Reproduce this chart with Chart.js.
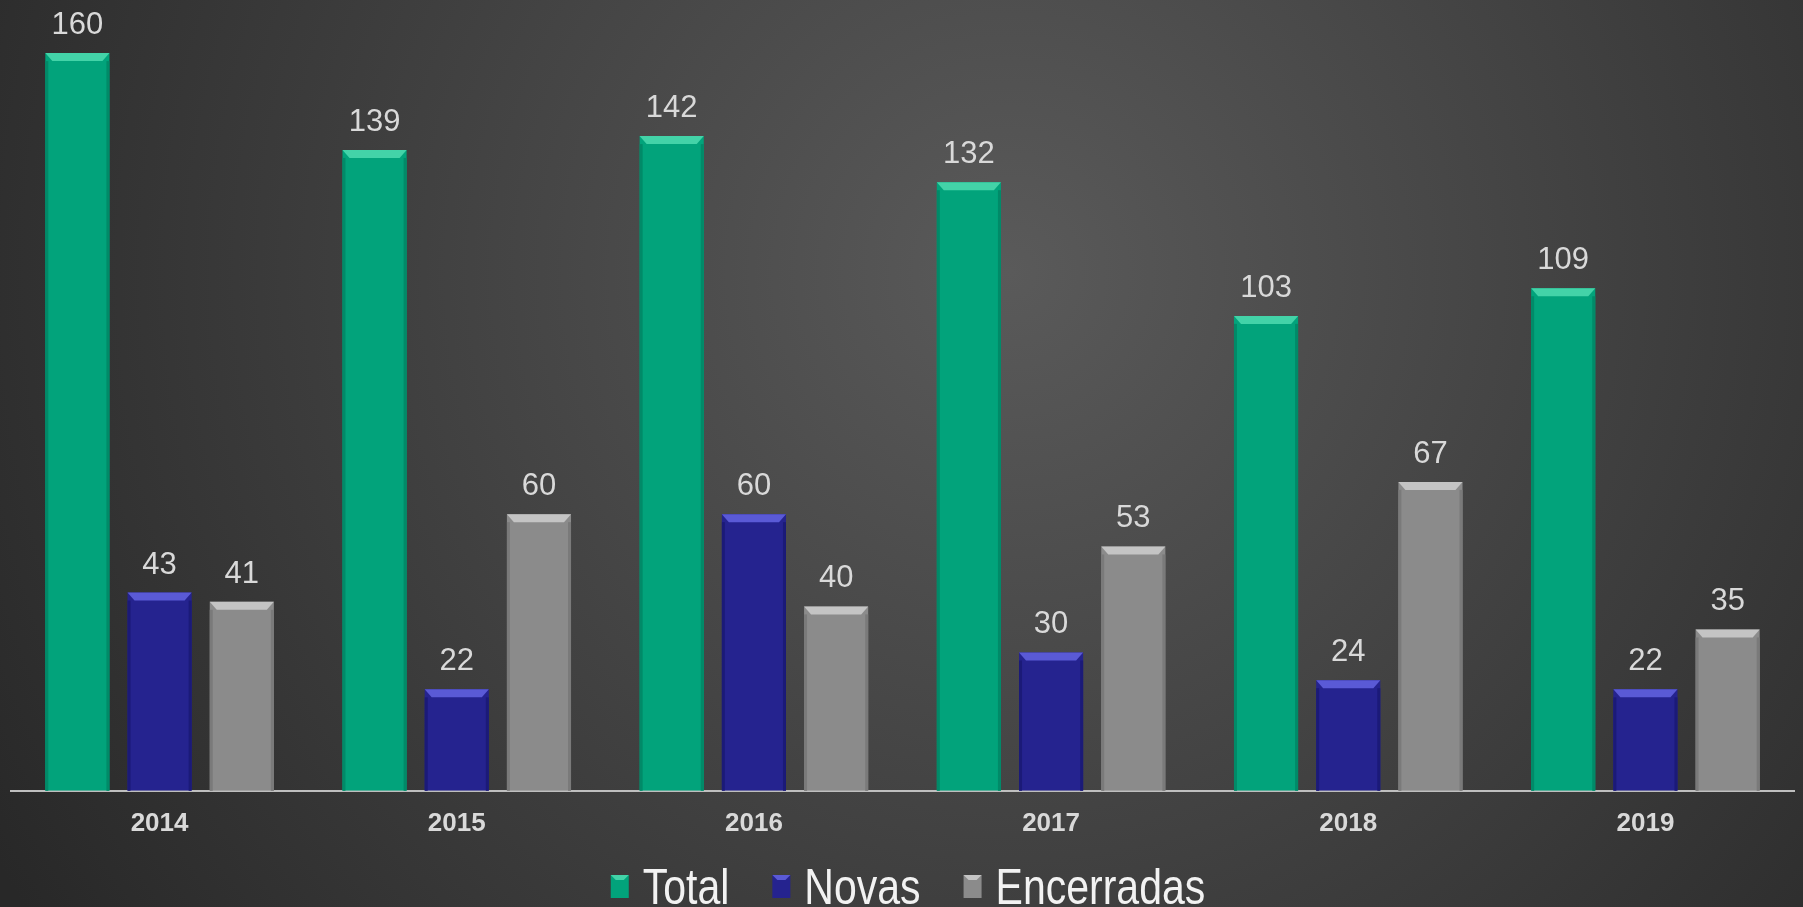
<!DOCTYPE html>
<html>
<head>
<meta charset="utf-8">
<script src="https://cdn.jsdelivr.net/npm/chart.js@4.4.1/dist/chart.umd.min.js"></script>
<style>
  html, body { margin: 0; padding: 0; background: #2a2a2a; }
  #wrap { width: 1803px; height: 907px; position: relative; }
</style>
</head>
<body>
<div id="wrap"><canvas id="chart"></canvas></div>
<script>
// data
const years = ['2014', '2015', '2016', '2017', '2018', '2019'];
const total = [160, 139, 142, 132, 103, 109];
const novas = [43, 22, 60, 30, 24, 22];
const encerradas = [41, 60, 40, 53, 67, 35];

const FONT = '"Liberation Sans", Arial, sans-serif';

// radial grey backdrop like the slide
const backdrop = {
    id: 'backdrop',
    beforeDraw(chart) {
        const { ctx, width, height } = chart;
        const g = ctx.createRadialGradient(width * 0.56, height * 0.3, 0, width * 0.56, height * 0.3, width * 0.65);
        g.addColorStop(0, '#5a5a5a');
        g.addColorStop(1, '#282828');
        ctx.save();
        ctx.fillStyle = g;
        ctx.fillRect(0, 0, width, height);
        ctx.restore();
    }
};

function bevelBox(ctx, x0, y, w, h, ds, b) {
    ctx.fillStyle = ds.backgroundColor;
    ctx.fillRect(x0, y, w, h);
    ctx.fillStyle = ds.bevelColor;
    ctx.beginPath();
    ctx.moveTo(x0, y);
    ctx.lineTo(x0 + w, y);
    ctx.lineTo(x0 + w - b, y + b);
    ctx.lineTo(x0 + b, y + b);
    ctx.closePath();
    ctx.fill();
}

// top bevel + value labels
const bevelLabels = {
    id: 'bevelLabels',
    afterDatasetsDraw(chart) {
        const ctx = chart.ctx;
        chart.data.datasets.forEach((ds, i) => {
            const meta = chart.getDatasetMeta(i);
            meta.data.forEach((bar, j) => {
                const w = bar.width, x0 = bar.x - w / 2, x1 = bar.x + w / 2, y = bar.y;
                ctx.save();
                ctx.fillStyle = ds.bevelColor;
                ctx.beginPath();
                ctx.moveTo(x0, y);
                ctx.lineTo(x1, y);
                ctx.lineTo(x1 - 7, y + 8);
                ctx.lineTo(x0 + 7, y + 8);
                ctx.closePath();
                ctx.fill();
                ctx.fillStyle = ds.edgeColor;
                ctx.fillRect(x0, y + 8, 3, bar.base - y - 8);
                ctx.fillRect(x1 - 3, y + 8, 3, bar.base - y - 8);
                ctx.fillStyle = '#d9d9d9';
                ctx.font = '31px ' + FONT;
                ctx.textAlign = 'center';
                ctx.textBaseline = 'alphabetic';
                ctx.fillText(ds.data[j], bar.x, y - 19);
                ctx.restore();
            });
        });
    }
};

// legend drawn by hand so the spacing matches the slide (narrow type like the original)
const slideLegend = {
    id: 'slideLegend',
    afterDraw(chart) {
        const ctx = chart.ctx;
        const dss = chart.data.datasets;
        const boxW = 18, boxH = 23, gap = 14, between = 43, squeeze = 0.82;
        ctx.save();
        ctx.font = '50px ' + FONT;
        const widths = dss.map(d => ctx.measureText(d.label).width * squeeze);
        const totalW = widths.reduce((a, b) => a + b, 0) + dss.length * (boxW + gap) + (dss.length - 1) * between;
        let x = 908 - totalW / 2;
        const base = 904;
        dss.forEach((d, i) => {
            bevelBox(ctx, x, base - 29, boxW, boxH, d, 5);
            x += boxW + gap;
            ctx.save();
            ctx.translate(x, base);
            ctx.scale(squeeze, 1);
            ctx.fillStyle = '#f2f2f2';
            ctx.textAlign = 'left';
            ctx.textBaseline = 'alphabetic';
            ctx.fillText(d.label, 0, 0);
            ctx.restore();
            x += widths[i] + between;
        });
        ctx.restore();
    }
};

new Chart(document.getElementById('chart'), {
    type: 'bar',
    data: {
        labels: years,
        datasets: [
            { label: 'Total', data: total, backgroundColor: '#02a37b', bevelColor: '#43d3a8', edgeColor: '#018a68' },
            { label: 'Novas', data: novas, backgroundColor: '#25238f', bevelColor: '#5a5ad6', edgeColor: '#1b1a78' },
            { label: 'Encerradas', data: encerradas, backgroundColor: '#8b8b8b', bevelColor: '#c4c4c4', edgeColor: '#7a7a7a' }
        ]
    },
    options: {
        responsive: true, maintainAspectRatio: false, animation: false,
        barPercentage: 0.78, categoryPercentage: 0.83,
        layout: { padding: { top: 7, left: 11, right: 9, bottom: 51 } },
        plugins: {
            tooltip: { enabled: false },
            legend: { display: false }
        },
        scales: {
            x: {
                grid: { display: false, drawTicks: false },
                border: { display: true, color: '#bfbfbf', width: 2 },
                ticks: { color: '#d9d9d9', font: { family: FONT, size: 26, weight: 'bold', lineHeight: 1.2 }, padding: 17 }
            },
            y: { display: false, min: 0, max: 170 }
        }
    },
    plugins: [backdrop, bevelLabels, slideLegend]
});
</script>
</body>
</html>
